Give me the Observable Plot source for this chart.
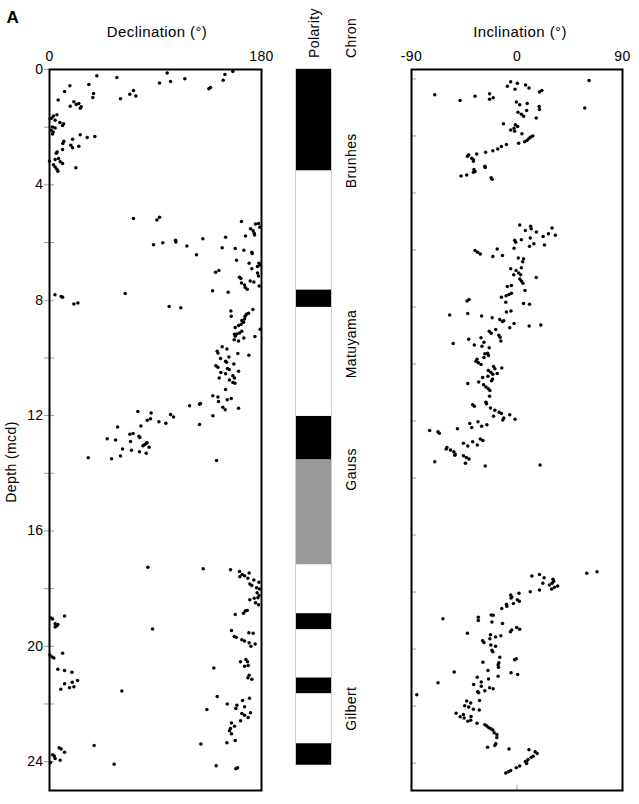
<!DOCTYPE html>
<html><head><meta charset="utf-8">
<script src="https://cdn.jsdelivr.net/npm/d3@7"></script>
<script src="https://cdn.jsdelivr.net/npm/@observablehq/plot@0.6"></script>
<style>
body{margin:0;background:#fff}
#wrap{position:relative;width:639px;height:804px;font-family:"Liberation Sans",Arial,sans-serif}
#wrap svg{position:absolute;left:0;top:0}
</style></head><body><div id="wrap"></div>
<script>
// [depth (mcd), declination (deg)]
const declination = [
[0.22,40.2],[0.28,57.2],[0.12,99.9],[0.47,93.4],[0.42,102.8],[0.32,114.9],[0.07,155.7],[0.17,148.9],[0.37,147.5],[0.62,136.7],[0.67,135.3],[0.52,33.4],[0.83,37.4],[0.97,36.8],[0.56,17.3],[0.76,12.8],[1.06,7.4],[1.12,20.7],[1.21,22.7],[1.18,24.9],[1.34,26.1],[1.29,26.9],[1.27,17.6],[1.01,60.3],[0.86,68.2],[0.73,71.3],[0.92,73.3],
[1.61,3.4],[1.68,2.0],[1.71,0.6],[1.57,6.3],[1.76,4.8],[1.84,8.8],[1.88,11.9],[1.94,11.1],[1.99,2.6],[2.03,4.8],[2.11,1.4],[2.17,3.1],[2.24,2.6],[2.26,26.1],[2.36,32.0],[2.32,38.5],[2.42,19.6],[2.49,12.2],[2.57,11.3],[2.63,18.1],[2.71,19.6],[2.66,24.9],[2.77,11.1],[2.86,6.5],[2.90,5.7],[3.09,7.7],[3.12,4.8],[3.17,0.0],[3.20,9.1],[3.26,11.1],[3.30,3.4],[3.38,4.8],[3.46,6.3],[3.53,7.1],[3.41,22.4],
[5.17,71.3],[5.22,91.2],[5.12,93.4],[5.27,163.0],[5.36,174.9],[5.34,177.5],[5.52,170.7],[5.59,172.9],[5.68,173.8],[5.74,174.1],[5.47,178.6],[5.77,166.4],[5.82,149.5],[5.87,130.2],[5.92,107.0],[5.98,107.3],[6.01,96.2],[6.08,88.3],[6.12,116.6],[6.42,124.8],[6.18,146.6],[6.21,157.7],[6.27,165.0],[6.34,171.8],[6.38,172.1],[6.61,158.8],[6.72,169.5],[6.72,177.8],[6.83,176.6],[6.78,178.9],[6.91,171.8],[7.06,176.6],[7.16,177.5],[7.03,141.0],[6.97,143.8],[7.20,161.3],[7.25,162.5],[7.40,163.0],[7.47,165.6],[7.56,166.2],[7.62,167.9],[7.33,170.4],[7.37,173.5],[7.51,178.0],[7.67,138.4],[7.72,151.7],[7.77,64.3],[7.81,4.6],[7.87,9.9],[7.90,11.1],[8.13,20.7],[8.10,24.1],
[8.22,101.6],[8.26,111.5],[8.37,154.0],[8.56,154.3],[8.32,172.7],[8.45,169.0],[8.49,167.3],[8.56,166.1],[8.65,165.6],[8.70,163.3],[8.76,164.7],[8.83,162.7],[8.88,160.5],[8.95,157.7],[9.08,163.3],[9.14,161.3],[9.17,159.1],[9.18,157.1],[9.25,157.7],[9.37,156.8],[9.41,160.5],[9.31,165.0],[9.26,174.4],[9.01,178.9],[9.61,146.6],[9.69,150.6],[9.77,142.4],[9.83,143.0],[9.85,159.9],[9.91,169.3],[9.97,152.3],[10.02,145.2],[10.12,149.5],[10.15,150.3],[10.27,141.2],[10.32,143.0],[10.21,156.5],[10.37,151.1],[10.40,152.6],[10.51,145.5],[10.55,149.5],[10.62,155.7],[10.46,160.5],[10.77,152.8],[10.70,157.1],[10.85,155.7],[10.88,157.4],[10.70,144.1],[11.10,149.5],[11.31,138.7],[11.36,143.0],[11.51,143.5],[11.45,150.9],[11.41,154.3],[11.71,147.2],[11.80,149.2],[11.75,160.5],[12.01,138.7],[12.31,127.4],[11.66,118.9],[11.61,127.4],[11.58,128.2],[11.96,102.8],[12.05,105.3],[12.27,98.8],[12.21,92.9],[11.91,86.3],[12.11,85.8],[12.16,83.0],[11.86,75.0],[12.36,77.6],[12.40,57.8],[12.80,49.0],[12.85,56.1],[12.65,68.2],[12.62,71.0],[12.90,68.8],[12.72,75.9],[12.76,76.7],[13.05,79.3],[13.01,80.7],[12.96,82.1],[12.94,82.9],[13.10,84.6],[13.31,82.1],[13.25,76.4],[13.20,69.6],[13.16,62.0],[13.40,60.3],[13.50,52.7],[13.46,32.9],[13.56,141.8],
[17.26,83.5],[17.31,130.5],[17.35,153.7],[17.41,161.3],[17.46,169.5],[17.51,163.6],[17.59,161.6],[17.55,165.6],[17.64,168.4],[17.70,173.5],[17.78,177.8],[17.84,170.1],[17.89,171.8],[17.97,175.8],[18.01,178.3],[18.14,176.3],[18.24,178.0],[18.32,176.9],[18.39,170.1],[18.33,173.8],[18.49,174.9],[18.56,177.5],[18.78,166.2],[18.76,167.9],[18.85,164.7],[18.90,157.7],[19.45,154.5],[19.66,156.8],[19.69,158.5],[19.77,163.3],[19.82,165.6],[19.53,169.3],[19.55,172.9],[20.00,171.0],[19.92,174.6],[19.88,169.5],[20.54,162.2],[20.46,166.7],[20.54,168.1],[20.69,165.6],[20.67,168.7],[21.00,169.5],[21.09,168.4],[21.14,171.8],[20.75,139.5],
[19.02,1.4],[19.05,2.6],[18.95,12.8],[19.22,4.8],[19.24,7.1],[19.33,4.8],[19.29,6.3],[19.40,87.5],[20.30,0.3],[20.37,2.3],[20.41,3.7],[20.24,11.1],[20.80,7.1],[20.84,12.8],[20.90,19.0],[21.19,23.8],[21.25,19.3],[21.30,12.8],[21.44,17.0],[21.40,20.7],[21.49,9.6],[21.55,61.4],
[21.74,142.4],[22.00,150.9],[22.19,133.6],[22.04,159.1],[21.88,163.9],[21.80,169.8],[22.16,158.2],[22.10,165.6],[22.33,163.3],[22.39,165.6],[22.30,170.7],[22.47,168.7],[22.58,162.2],[22.66,154.5],[22.85,153.7],[22.93,152.8],[23.03,154.5],[22.77,157.1],[23.27,157.7],[23.34,150.6],[23.39,128.5],[24.14,141.5],[24.25,158.2],[24.21,159.6],
[23.44,37.9],[24.09,54.9],[23.52,8.2],[23.56,9.9],[23.67,12.8],[23.76,2.6],[23.80,4.0],[23.89,4.8],[23.95,9.1],[24.03,0.9]
];

// [depth (mcd), inclination (deg)]
const inclination = [
[0.06,61.5],[1.02,57.8],[0.56,-70.2],[0.76,-48.5],[0.61,-35.8],[0.52,-23.4],[0.71,-23.4],[0.66,-20.3],[0.10,-5.4],[0.26,-8.2],[0.15,0.3],[0.36,-1.7],[0.21,7.3],[0.32,10.2],[0.46,19.2],[0.41,21.2],[0.81,-0.6],[0.91,2.3],[0.86,8.7],[0.97,18.9],[1.07,19.2],[1.11,8.2],[1.17,0.8],[1.24,3.7],[1.31,5.6],[1.37,16.4],[1.57,-11.6],[1.61,-1.4],[1.67,0.6],[1.73,-2.5],[1.79,-5.4],[1.84,-2.0],[1.92,4.2],[2.00,13.5],[2.04,11.6],[2.09,10.2],[2.20,6.5],[2.16,8.5],[2.26,1.4],[2.30,-9.0],[2.37,-13.3],[2.46,-16.4],[2.52,-20.6],[2.57,-26.8],[2.63,-34.4],[2.67,-41.2],[2.71,-42.3],[2.78,-38.6],[2.84,-37.2],[2.89,-37.2],[3.06,-27.4],[3.11,-27.1],[3.18,-36.7],[3.25,-35.8],[3.27,-37.2],[3.37,-42.9],[3.41,-47.7],[3.47,-22.0],[3.52,-21.2],
[5.12,2.3],[5.17,11.6],[5.26,12.1],[5.32,7.1],[5.37,16.6],[5.23,29.9],[5.43,26.8],[5.48,32.7],[5.53,22.3],[5.58,11.3],[5.64,3.7],[5.66,-2.0],[5.73,-1.1],[5.78,14.4],[5.87,10.7],[5.83,23.4],[5.94,-2.5],[6.02,-35.8],[6.08,-33.6],[6.14,-31.3],[5.97,-16.9],[6.23,-20.6],[6.19,-12.4],[6.28,1.1],[6.31,5.6],[6.41,4.8],[6.66,-5.4],[6.62,3.7],[6.72,-0.8],[6.81,1.4],[6.87,3.1],[6.87,-2.8],[7.02,2.3],[7.09,3.7],[7.17,5.1],[6.97,16.4],[7.25,-4.8],[7.28,-8.2],[7.42,6.8],[7.52,-4.8],[7.56,-6.8],[7.61,-9.3],[7.66,-13.3],[7.83,-9.6],[7.74,-40.9],[7.79,-42.6],[7.88,5.6],[7.90,10.7],
[8.28,-57.5],[8.23,-42.0],[8.32,-30.2],[8.38,-21.2],[8.44,-14.7],[8.51,-12.4],[8.48,-11.3],[8.18,-9.0],[8.14,-5.1],[8.58,-2.5],[8.73,-6.2],[8.67,10.4],[8.63,20.3],[8.79,-18.1],[8.85,-23.7],[8.92,-22.0],[8.99,-15.5],[9.06,-14.4],[9.19,-13.8],[9.08,-30.7],[9.13,-41.2],[9.28,-54.4],[9.24,-28.2],[9.33,-36.4],[9.38,-29.9],[9.43,-23.7],[9.64,-27.4],[9.62,-25.1],[9.70,-24.3],[9.77,-28.2],[9.83,-34.1],[9.90,-35.0],[9.96,-33.0],[10.02,-30.7],[10.09,-20.0],[10.14,-13.0],[10.17,-18.9],[10.23,-24.5],[10.29,-22.3],[10.36,-20.6],[10.33,-16.9],[10.43,-24.8],[10.47,-29.3],[10.63,-32.7],[10.68,-42.0],[10.53,-20.9],[10.59,-21.7],[10.73,-28.5],[10.81,-26.5],[10.87,-24.5],[10.93,-23.1],[11.13,-23.4],[11.34,-26.5],[11.39,-26.0],[11.43,-37.8],[11.48,-36.4],[11.54,-22.6],[11.62,-18.9],[11.69,-15.2],[11.74,-13.3],[11.78,-6.2],[11.89,-11.3],[11.96,-12.1],[11.94,-1.7],[11.83,-20.0],[12.03,-33.3],[12.09,-40.3],[12.23,-38.6],[12.18,-30.2],[12.13,-25.7],[12.27,-50.8],[12.33,-74.5],[12.38,-67.4],[12.43,-66.3],[12.78,-45.7],[12.88,-42.0],[12.73,-37.8],[12.84,-33.9],[12.63,-31.3],[12.68,-29.1],[12.93,-59.8],[12.98,-60.4],[13.02,-56.7],[13.08,-53.9],[13.16,-52.8],[13.20,-53.0],[13.22,-45.7],[13.28,-43.2],[13.33,-40.9],[13.48,-44.0],[13.43,-70.2],[13.58,-27.1],[13.54,19.7],
[17.34,59.5],[17.29,68.3],[17.44,12.7],[17.38,19.2],[17.50,23.1],[17.55,30.7],[17.62,31.3],[17.69,29.9],[17.83,31.9],[17.79,34.7],[17.89,29.6],[17.75,27.6],[17.69,22.0],[17.99,11.3],[17.93,19.2],[18.04,1.7],[18.10,-5.4],[18.17,-4.5],[18.21,-5.1],[18.32,2.0],[18.27,0.3],[18.40,-3.1],[18.43,-9.0],[18.50,-8.7],[18.58,-13.0],[18.88,-33.0],[19.00,-33.0],[18.80,-22.0],[18.81,-20.3],[19.05,-21.4],[19.10,-12.4],[18.94,-63.2],[19.44,-42.3],[19.71,-29.3],[19.77,-28.2],[19.50,-22.6],[19.64,-23.1],[19.58,-18.3],[19.53,-13.8],[19.39,-5.6],[19.33,-4.5],[19.24,-0.3],[19.30,2.3],[19.86,-22.3],[19.90,-18.3],[20.04,-21.4],[20.09,-20.6],[20.29,-14.7],[20.48,-15.5],[20.55,-16.1],[20.64,-15.8],[20.95,-16.1],[20.37,-2.0],[20.34,-0.6],[20.46,-29.1],[20.75,-24.8],[20.80,-53.6],[20.83,-5.1],[20.89,0.6],[21.18,-67.4],[20.99,-33.9],[21.15,-30.5],[21.05,-24.3],[21.24,-37.0],[21.30,-30.5],[21.36,-23.4],[21.39,-20.3],[21.46,-27.4],[21.50,-33.6],[21.53,-32.7],[21.82,-42.9],[21.89,-39.5],[22.03,-41.2],[21.99,-44.6],[21.80,-31.9],[22.11,-37.2],[22.14,-32.2],[22.25,-51.9],[22.29,-45.7],[22.37,-48.5],[22.42,-45.1],[22.36,-39.2],[22.53,-42.0],[22.50,-39.5],[22.60,-34.1],[21.60,-85.5],[22.65,-27.4],[22.70,-25.7],[22.76,-24.0],[22.79,-22.3],[22.84,-20.6],[22.93,-19.5],[23.00,-17.2],[23.10,-17.2],[23.32,-18.1],[23.38,-18.9],[23.44,-25.1],[23.50,-6.8],[23.53,10.2],[23.60,15.5],[23.66,17.2],[23.76,13.8],[23.79,12.1],[23.87,9.3],[23.96,8.2],[24.01,8.2],[23.94,7.1],[24.10,2.3],[24.16,-0.6],[24.26,-5.4],[24.30,-7.3],[24.35,-9.6]
];

const depthTicks = [0,2,4,6,8,10,12,14,16,18,20,22,24];
const depthLabelStep = 4;
const decTicks = [0,180];
const incTicks = [-90,0,90];
const incBottomTicks = [0];

// polarity column
const polTop    = [0,    3.52, 7.65, 8.25, 12.03, 13.54, 17.18, 18.87, 19.43, 21.10, 21.65, 23.38];
const polBottom = [3.52, 7.65, 8.25, 12.03, 13.54, 17.18, 18.87, 19.43, 21.10, 21.65, 23.38, 24.12];
const polType   = ["normal","reversed","normal","reversed","normal","uncertain","reversed","normal","reversed","normal","reversed","normal"];
const polKinds  = ["normal","reversed","uncertain"];
const polColors = ["#000000","#ffffff","#999999"];

const chronNames  = ["Brunhes","Matuyama","Gauss","Gilbert"];
const chronDepths = [2.21, 8.33, 13.13, 21.40];

const W = 639, H = 804;
const baseStyle = {background:"transparent", fontFamily:'"Liberation Sans", Arial, sans-serif', fontSize:"14px", letterSpacing:"0.4px", overflow:"visible", color:"black"};
const plain = d => String(d);

const leftPlot = Plot.plot({
  width: W, height: H, marginLeft: 49, marginRight: 378, marginTop: 69, marginBottom: 14,
  style: baseStyle,
  x: {domain: [0,180]},
  y: {domain: [0,25], reverse: true},
  marks: [
    Plot.axisX({anchor: "top", ticks: decTicks, tickSize: 0, tickPadding: 9, tickFormat: plain, label: null}),
    Plot.axisY({anchor: "left", ticks: depthTicks, tickSize: 5, tickPadding: 1, stroke: "#999", fill: "black",
      tickFormat: d => d % depthLabelStep === 0 ? String(d) : "", label: null}),
    Plot.axisY({anchor: "left", ticks: depthTicks, tickSize: 5, dx: 5, stroke: "#999", fill: "none", label: null}),
    Plot.dot(declination, {x: d => d[1], y: d => d[0], r: 1.75, fill: "black", stroke: null}),
    Plot.frame({stroke: "black", strokeWidth: 2})
  ]
});

const polPlot = Plot.plot({
  width: W, height: H, marginLeft: 296, marginRight: 308, marginTop: 69, marginBottom: 14,
  style: baseStyle,
  x: {domain: [0,1], axis: null},
  y: {domain: [0,25], reverse: true, axis: null},
  color: {domain: polKinds, range: polColors},
  marks: [
    Plot.rect([0], {y1: () => polTop[0], y2: () => polBottom[polBottom.length-1], fill: "white", stroke: "#999", strokeWidth: 1}),
    Plot.rect(polType, {y1: polTop, y2: polBottom, fill: polType, stroke: null}),
    Plot.text(chronNames, {y: chronDepths, text: d => d, frameAnchor: "right", dx: 20, rotate: -90, fill: "black"})
  ]
});

const rightPlot = Plot.plot({
  width: W, height: H, marginLeft: 411, marginRight: 17, marginTop: 69, marginBottom: 14,
  style: baseStyle,
  x: {domain: [-90,90]},
  y: {domain: [-0.33, 24.96], reverse: true},
  marks: [
    Plot.axisX({anchor: "top", ticks: incTicks, tickSize: 0, tickPadding: 9, tickFormat: plain, label: null}),
    Plot.axisY({anchor: "left", ticks: depthTicks, tickSize: 5, dx: 5, stroke: "#999", fill: "none", label: null}),
    Plot.axisX({anchor: "bottom", ticks: incBottomTicks, tickSize: 5, dy: -5, stroke: "#999", fill: "none", label: null}),
    Plot.dot(inclination, {x: d => d[1], y: d => d[0], r: 1.75, fill: "black", stroke: null}),
    Plot.frame({stroke: "black", strokeWidth: 2})
  ]
});

const wrap = document.getElementById("wrap");
wrap.appendChild(leftPlot);
wrap.appendChild(polPlot);
wrap.appendChild(rightPlot);

const ns = "http://www.w3.org/2000/svg";
const overlay = document.createElementNS(ns, "svg");
overlay.setAttribute("width", W); overlay.setAttribute("height", H);
overlay.setAttribute("style", 'font-family:"Liberation Sans",Arial,sans-serif;font-size:15px;letter-spacing:0.4px;pointer-events:none');
overlay.innerHTML = `
  <text x="6.5" y="22.7" font-weight="bold" font-size="17" letter-spacing="0">A</text>
  <text x="157" y="36.5" text-anchor="middle">Declination (°)</text>
  <text x="520" y="36.5" text-anchor="middle">Inclination (°)</text>
  <text transform="translate(318.5,58) rotate(-90)" font-size="14">Polarity</text>
  <text transform="translate(355.5,58) rotate(-90)" font-size="14">Chron</text>
  <text transform="translate(16,462) rotate(-90)" text-anchor="middle" font-size="14">Depth (mcd)</text>`;
wrap.appendChild(overlay);
</script>
</body></html>
